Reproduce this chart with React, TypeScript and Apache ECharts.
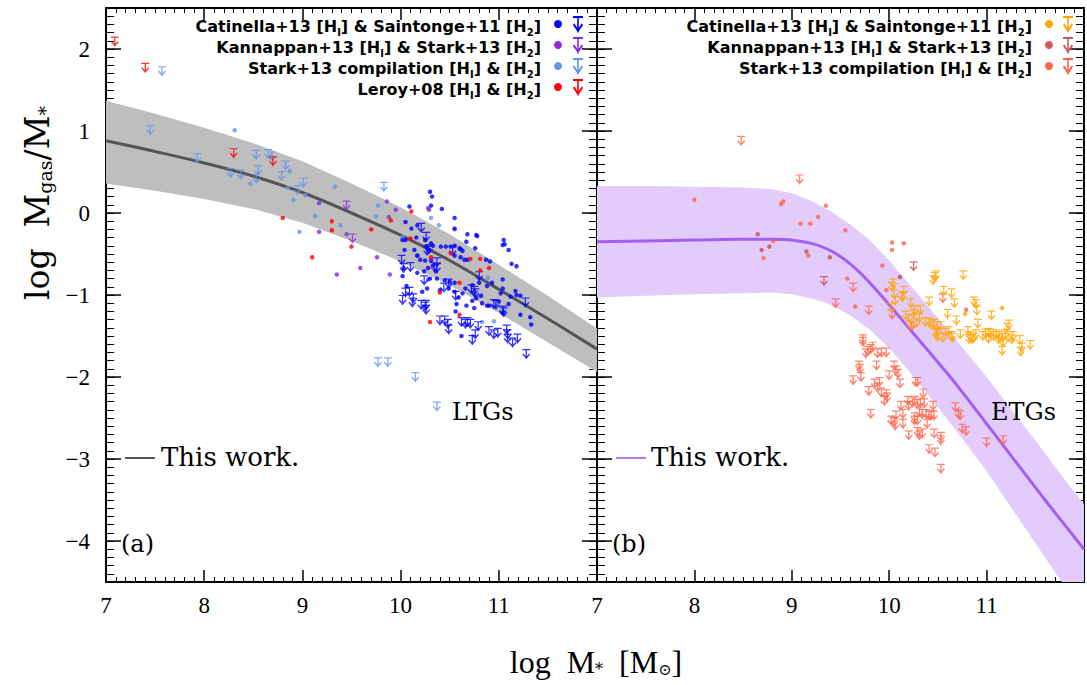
import React, { useEffect, useRef } from "react";
import * as echarts from "echarts";

// ---------- symbols ----------
const ARROW_D = "M0 0H100V14H0Z M42 0H58V118H42Z M0 64L12 52L50 92L88 52L100 64L50 118Z";
const ARROW_SYMBOL = "path://" + ARROW_D;
echarts.graphic.registerShape("ulArrow", echarts.graphic.extendPath(ARROW_D, {}));

// ---------- axis ticks ----------
const xTickValues = [7, 8, 9, 10, 11];
const yTickValues = [-4, -3, -2, -1, 0, 1, 2];

// ---------- model curves ----------
const ltgModelX = [7, 7.5, 8, 8.5, 9, 9.5, 10, 10.5, 11, 11.5, 12];
const ltgModelMid = [0.88, 0.75, 0.61, 0.45, 0.25, 0.0, -0.27, -0.58, -0.93, -1.29, -1.66];
const ltgModelHigh = [1.37, 1.21, 1.04, 0.85, 0.63, 0.36, 0.07, -0.26, -0.63, -1.01, -1.41];
const ltgModelLow = [0.36, 0.27, 0.17, 0.05, -0.12, -0.34, -0.59, -0.88, -1.22, -1.58, -1.94];

const etgModelX = [7, 7.5, 8, 8.5, 8.8, 9.0, 9.2, 9.4, 9.6, 9.8, 10.0, 10.2, 10.4, 10.6, 10.8, 11.0, 11.2, 11.4, 11.6, 11.8, 12.0];
const etgModelMid = [-0.35, -0.34, -0.33, -0.32, -0.32, -0.33, -0.37, -0.46, -0.62, -0.85, -1.12, -1.4, -1.68, -1.96, -2.26, -2.57, -2.88, -3.19, -3.5, -3.8, -4.1];
const etgModelHigh = [0.33, 0.33, 0.32, 0.31, 0.29, 0.24, 0.15, 0.02, -0.14, -0.33, -0.58, -0.86, -1.14, -1.42, -1.71, -2.0, -2.31, -2.62, -2.93, -3.25, -3.55];
const etgModelLow = [-1.03, -1.01, -0.99, -0.98, -0.97, -0.99, -1.04, -1.12, -1.25, -1.42, -1.65, -1.92, -2.22, -2.52, -2.83, -3.15, -3.5, -3.85, -4.2, -4.55, -4.9];

// ---------- LTG data ----------
const ltgCatinellaDet = [
  [10.30, 0.26], [10.32, 0.20], [10.09, 0.08], [10.31, 0.09], [10.42, 0.05], [10.55, -0.06], [10.05, -0.11], [10.11, -0.19],
  [10.55, -0.19], [10.17, -0.15], [10.16, -0.30], [10.25, -0.33], [10.26, -0.41], [10.05, -0.33], [10.02, -0.33], [10.04, -0.45],
  [10.29, -0.45], [10.33, -0.40], [10.31, -0.37], [10.41, -0.41], [10.46, -0.41], [10.51, -0.41], [10.55, -0.40], [10.60, -0.43],
  [10.68, -0.26], [10.77, -0.27], [10.78, -0.28], [10.67, -0.35], [10.76, -0.43], [10.61, -0.44], [10.63, -0.46], [10.55, -0.52],
  [10.61, -0.54], [10.65, -0.57], [10.68, -0.57], [10.87, -0.57], [10.91, -0.59], [11.05, -0.33], [11.06, -0.38], [11.04, -0.39],
  [11.10, -0.45], [11.13, -0.62], [11.18, -0.65], [10.14, -0.45], [10.17, -0.52], [10.20, -0.57], [10.25, -0.58], [10.31, -0.58],
  [10.33, -0.64], [10.28, -0.67], [10.36, -0.71], [10.24, -0.71], [10.17, -0.73], [10.02, -0.77], [10.30, -0.80], [10.37, -0.80],
  [10.45, -0.82], [10.50, -0.84], [10.55, -0.85], [10.49, -0.92], [10.40, -0.94], [10.27, -0.92], [10.22, -0.96], [10.55, -0.96],
  [10.59, -1.03], [10.63, -0.98], [10.66, -0.92], [10.73, -0.88], [10.80, -0.85], [10.88, -0.89], [10.93, -0.85], [11.04, -0.81],
  [10.77, -1.04], [10.82, -1.01], [10.73, -1.07], [10.88, -1.13], [10.90, -1.13], [11.04, -0.92], [11.02, -0.98], [11.00, -1.08],
  [11.10, -1.11], [11.12, -1.02], [11.18, -1.00], [11.22, -1.01], [11.17, -0.95], [10.57, -1.11], [10.67, -1.13], [10.75, -1.16],
  [10.83, -1.10], [11.04, -1.21], [11.22, -1.24], [11.32, -1.27], [11.33, -1.36], [10.62, -1.50], [10.56, -1.20], [10.03, -0.67],
  [10.06, -0.89],
];
const ltgCatinellaLim = [
  [10.21, -0.18], [10.26, -0.29], [10.27, -0.46], [10.29, -0.44], [10.01, -0.57], [10.03, -0.67], [10.10, -0.66], [10.05, -0.97],
  [10.09, -0.96], [10.02, -1.06], [10.13, -1.04], [10.12, -1.09], [10.21, -1.12], [10.25, -1.14], [10.26, -1.12], [10.26, -1.18],
  [10.24, -0.82], [10.37, -0.60], [10.37, -0.67], [10.44, -0.91], [10.49, -0.86], [10.56, -1.01], [10.40, -1.31], [10.45, -1.31],
  [10.48, -1.35], [10.49, -1.42], [10.53, -0.46], [10.62, -1.33], [10.66, -1.35], [10.68, -1.33], [10.71, -1.35], [10.79, -1.38],
  [10.76, -1.48], [10.73, -1.55], [10.80, -0.77], [10.72, -0.93], [10.75, -0.95], [10.76, -0.98], [10.95, -1.11], [10.97, -1.12],
  [11.04, -1.19], [11.05, -1.21], [10.90, -1.44], [10.95, -1.48], [10.99, -1.46], [11.08, -1.42], [11.09, -1.48], [11.09, -1.53],
  [11.14, -1.58], [11.19, -1.53], [11.27, -1.09], [11.28, -1.72],
];
const ltgKannappanDet = [
  [9.17, 0.12], [9.17, -0.23], [9.45, -0.26], [9.35, -0.75], [9.86, 0.14], [9.88, -0.05], [9.95, 0.04], [9.76, -0.54],
  [9.59, -0.67], [9.89, -0.75], [10.28, 0.06], [10.29, 0.04], [10.29, -0.45], [10.28, -0.81], [10.17, -0.52],
];
const ltgKannappanLim = [[9.45, 0.09], [9.51, -0.31], [10.34, -0.66]];
const ltgStarkDet = [
  [8.31, 1.01], [8.87, 0.51], [8.47, 0.36], [8.85, 0.31], [8.91, 0.16], [9.03, 0.22], [9.13, -0.04], [8.97, -0.23],
  [9.33, 0.32], [9.39, -0.15], [9.77, 0.09], [9.75, -0.04], [10.31, -0.06], [10.39, -0.15], [10.55, -0.20], [10.02, -0.29],
  [10.89, -0.79], [10.83, -1.33], [10.95, -1.32], [10.80, -1.01],
];
const ltgStarkLim = [
  [7.57, 1.73], [7.45, 1.01], [7.93, 0.67], [8.27, 0.49], [8.37, 0.47], [8.53, 0.71], [8.55, 0.52], [8.53, 0.42],
  [8.65, 0.72], [8.69, 0.69], [8.83, 0.58], [8.79, 0.45], [9.01, 0.37], [8.95, 0.28], [9.83, 0.32], [9.77, -1.82],
  [9.87, -1.82], [10.15, -2.0], [10.37, -2.36],
];
const ltgLeroyDet = [
  [8.80, -0.06], [9.30, -0.10], [9.30, -0.21], [9.10, -0.54], [9.50, -0.41], [9.70, -0.20], [9.90, -0.09], [10.11, 0.02],
  [10.10, -0.31], [10.31, -0.54], [10.51, -0.49], [10.71, -0.56], [10.81, -0.56], [10.81, -0.70], [10.90, -0.67], [10.60, -0.85],
  [10.40, -0.97], [10.60, -1.24], [10.30, -1.33],
];
const ltgLeroyLim = [[7.09, 2.09], [7.40, 1.77], [8.30, 0.73], [8.70, 0.63]];

// ---------- ETG data ----------
const etgCatinellaDet = [[10.78, -1.23], [11.16, -1.16]];
const etgCatinellaLim = [
  [10.47, -0.78], [10.48, -0.76], [10.45, -0.82], [10.76, -0.76], [10.04, -0.86], [10.03, -0.90], [10.15, -0.95], [10.56, -0.95],
  [10.64, -0.98], [10.14, -1.02], [10.05, -0.99], [10.06, -1.07], [10.22, -1.10], [10.41, -1.08], [10.67, -1.10], [10.87, -1.08],
  [10.89, -1.11], [10.90, -1.19], [10.26, -1.19], [10.25, -1.23], [10.32, -1.18], [10.31, -1.28], [10.28, -1.34], [10.22, -1.36],
  [10.37, -1.33], [10.41, -1.33], [10.43, -1.36], [10.46, -1.35], [10.49, -1.38], [10.53, -1.38], [10.60, -1.23], [10.69, -1.31],
  [10.49, -1.46], [10.50, -1.51], [10.58, -1.46], [10.61, -1.44], [10.64, -1.50], [10.73, -1.48], [10.81, -1.44], [10.83, -1.50],
  [10.85, -1.54], [10.87, -1.52], [10.89, -1.48], [10.91, -1.35], [10.96, -1.50], [10.99, -1.47], [11.02, -1.46], [11.04, -1.47],
  [11.07, -1.50], [11.10, -1.48], [11.13, -1.50], [11.16, -1.52], [11.19, -1.48], [11.21, -1.40], [11.23, -1.36], [11.27, -1.50],
  [11.34, -1.55], [11.36, -1.64], [11.35, -1.69], [11.45, -1.61], [11.16, -1.68], [11.17, -1.58], [11.05, -1.25], [10.02, -1.16],
  [10.13, -1.02], [10.17, -1.25], [10.20, -1.29], [10.48, -1.48], [10.55, -1.52], [10.65, -1.52], [10.82, -1.54], [11.02, -1.53],
  [11.12, -1.54], [11.22, -1.52], [11.26, -1.54],
];
const etgKannappanDet = [[8.65, -0.26], [8.69, -0.45], [8.77, -0.41], [9.15, -0.47], [9.39, -0.54], [10.11, -0.78]];
const etgKannappanLim = [[9.33, -0.83], [10.25, -0.65]];
const etgStarkDet = [
  [8.0, 0.16], [8.89, 0.11], [8.91, 0.14], [9.35, 0.09], [9.27, -0.05], [9.09, -0.13], [9.19, -0.13], [9.55, -0.21],
  [8.81, -0.34], [8.71, -0.55], [9.17, -0.52], [9.57, -0.80], [10.03, -0.36], [10.03, -0.45], [10.15, -0.37], [9.93, -0.64],
  [9.97, -0.94], [9.65, -1.14], [10.79, -1.18],
];
const etgStarkLim = [
  [8.48, 0.88], [9.08, 0.41], [9.45, -1.10], [9.63, -0.91], [9.79, -1.19], [10.03, -1.24], [10.23, -1.38], [10.55, -1.04],
  [9.73, -1.54], [9.73, -1.57], [9.78, -1.68], [9.81, -1.66], [9.83, -1.63], [9.76, -1.71], [9.88, -1.71], [9.92, -1.70],
  [9.97, -1.70], [9.69, -1.86], [9.70, -1.90], [9.87, -1.86], [10.05, -1.86], [10.07, -1.92], [10.09, -1.96], [9.63, -2.04],
  [9.71, -2.00], [9.85, -2.08], [9.90, -2.06], [10.00, -1.98], [9.88, -2.13], [9.92, -2.19], [9.97, -2.21], [9.98, -2.25],
  [9.95, -2.29], [10.11, -2.08], [9.79, -2.17], [10.27, -2.06], [9.81, -2.45], [10.02, -2.53], [10.05, -2.55], [10.07, -2.47],
  [10.12, -2.35], [10.14, -2.45], [10.19, -2.29], [10.20, -2.35], [10.24, -2.31], [10.26, -2.29], [10.29, -2.33], [10.32, -2.31],
  [10.36, -2.32], [10.26, -2.49], [10.29, -2.53], [10.26, -2.53], [10.31, -2.43], [10.34, -2.45], [10.35, -2.20], [10.38, -2.45],
  [10.41, -2.47], [10.43, -2.47], [10.46, -2.47], [10.45, -2.35], [10.06, -2.59], [10.14, -2.57], [10.20, -2.71], [10.29, -2.67],
  [10.31, -2.71], [10.34, -2.69], [10.39, -2.57], [10.46, -2.69], [10.53, -2.73], [10.53, -2.77], [10.41, -2.88], [10.47, -2.92],
  [10.53, -3.12], [10.29, -2.06], [10.68, -2.37], [10.71, -2.45], [10.73, -2.47], [10.75, -2.63], [10.79, -2.66], [11.00, -2.80],
  [11.17, -2.77],
];

// ---------- legend text ----------
const ltgLegend = [
  { text: "Catinella+13 [H{s|I}] & Saintonge+11 [H{s|2}]", color: "#0000ff" },
  { text: "Kannappan+13 [H{s|I}] & Stark+13 [H{s|2}]", color: "#8a2be2" },
  { text: "Stark+13 compilation [H{s|I}] & [H{s|2}]", color: "#6495ed" },
  { text: "Leroy+08 [H{s|I}] & [H{s|2}]", color: "#ff0000" },
];
const etgLegend = [
  { text: "Catinella+13 [H{s|I}] & Saintonge+11 [H{s|2}]", color: "#ffa500" },
  { text: "Kannappan+13 [H{s|I}] & Stark+13 [H{s|2}]", color: "#cd5c5c" },
  { text: "Stark+13 compilation [H{s|I}] & [H{s|2}]", color: "#ff6347" },
];

const LTG_LINE = "#555555";
const LTG_BAND = "#bebebe";
const ETG_LINE = "#a45ff2";
const ETG_BAND = "#e3ccfb";

const SERIF = "'DejaVu Serif', 'Liberation Serif', serif";
const LEG_FONT = "'DejaVu Sans', sans-serif";

function fmtY(v: number) {
  if (!Number.isInteger(v)) return "";
  return v < 0 ? "\u2212" + Math.abs(v) : String(v);
}

function xAxes(grid: number) {
  const common = {
    type: "value",
    gridIndex: grid,
    min: 7,
    max: 12,
    interval: 1,
    axisLine: { show: true, onZero: false, lineStyle: { color: "#000", width: 2 } },
    axisTick: { show: true, inside: true, length: 12, lineStyle: { color: "#000", width: 1.5 } },
    minorTick: { show: true, splitNumber: 10, length: 5, lineStyle: { color: "#000", width: 1 } },
    splitLine: { show: false },
  };
  return [
    {
      ...common,
      position: "bottom",
      axisLabel: {
        show: true,
        margin: 12,
        color: "#000",
        fontFamily: "'Liberation Serif', serif",
        fontSize: 23,
        formatter: (v: number) => (xTickValues.includes(v) ? String(v) : ""),
      },
    },
    { ...common, position: "top", axisLabel: { show: false } },
  ];
}

function yAxes(grid: number, labels: boolean) {
  const base = {
    type: "value",
    gridIndex: grid,
    min: -4.5,
    max: 2.5,
    axisLine: { show: true, onZero: false, lineStyle: { color: "#000", width: 2 } },
    splitLine: { show: false },
  };
  const major = {
    ...base,
    splitNumber: 7,
    axisTick: { show: true, inside: true, length: 15, lineStyle: { color: "#000", width: 1.5 } },
  };
  const minor = {
    ...base,
    interval: 0.1,
    axisTick: { show: true, inside: true, length: 8, lineStyle: { color: "#000", width: 1 } },
    axisLabel: { show: false },
  };
  return [
    {
      ...major,
      position: "left",
      axisLabel: {
        show: labels,
        showMinLabel: false,
        showMaxLabel: false,
        margin: 16,
        color: "#000",
        fontFamily: "'Liberation Serif', serif",
        fontSize: 23,
        formatter: (v: number) => (yTickValues.includes(v) ? fmtY(v) : ""),
      },
    },
    { ...minor, position: "left" },
    { ...major, position: "right", axisLabel: { show: false } },
    { ...minor, position: "right" },
  ];
}

function band(xs: number[], hi: number[], lo: number[], color: string, xi: number, yi: number) {
  return {
    type: "custom",
    xAxisIndex: xi,
    yAxisIndex: yi,
    data: [[xs[0], hi[0]]],
    clip: true,
    silent: true,
    z: 1,
    renderItem: (_p: any, api: any) => {
      const pts: number[][] = [];
      for (let i = 0; i < xs.length; i++) pts.push(api.coord([xs[i], hi[i]]));
      for (let i = xs.length - 1; i >= 0; i--) pts.push(api.coord([xs[i], lo[i]]));
      return { type: "polygon", shape: { points: pts }, style: { fill: color } };
    },
  };
}

function modelLine(xs: number[], ys: number[], color: string, xi: number, yi: number) {
  return {
    type: "line",
    xAxisIndex: xi,
    yAxisIndex: yi,
    data: xs.map((x, i) => [x, ys[i]]),
    smooth: 0.4,
    showSymbol: false,
    silent: true,
    lineStyle: { color, width: 3 },
    z: 2,
  };
}

function dots(data: number[][], color: string, xi: number, yi: number) {
  return {
    type: "scatter",
    xAxisIndex: xi,
    yAxisIndex: yi,
    data,
    symbol: "circle",
    symbolSize: 4.5,
    itemStyle: { color },
    silent: true,
    z: 5,
  };
}

function lims(data: number[][], color: string, xi: number, yi: number) {
  return {
    type: "scatter",
    xAxisIndex: xi,
    yAxisIndex: yi,
    data,
    symbol: ARROW_SYMBOL,
    symbolSize: [8, 10],
    itemStyle: { color },
    silent: true,
    z: 5,
  };
}

const subRich = { s: { fontSize: 10, fontFamily: LEG_FONT, fontWeight: "bold", padding: [12, 0, 0, 0], fill: "#000" } };

function legendGraphics(rows: { text: string; color: string }[], textRight: number, dotX: number, arrowX: number) {
  const rowYs = [25, 46, 67, 88];
  const out: any[] = [];
  rows.forEach((r, i) => {
    const y = rowYs[i];
    out.push({
      type: "text",
      x: textRight,
      y: y + 1,
      z: 100,
      style: {
        text: r.text,
        rich: subRich,
        fontFamily: LEG_FONT,
        fontWeight: "bold",
        fontSize: 16,
        fill: "#000",
        align: "right",
        verticalAlign: "middle",
      },
    });
    out.push({ type: "circle", z: 100, shape: { cx: dotX, cy: y - 1, r: 4 }, style: { fill: r.color } });
    out.push({ type: "ulArrow", z: 100, x: arrowX - 5, y: y - 9, scaleX: 0.1, scaleY: 0.14, style: { fill: r.color } });
  });
  return out;
}

const option: any = {
  animation: false,
  backgroundColor: "#fff",
  grid: [
    { left: 106, top: 8, width: 491, height: 574 },
    { left: 597, top: 8, width: 490, height: 574 },
  ],
  xAxis: [...xAxes(0), ...xAxes(1)],
  yAxis: [...yAxes(0, true), ...yAxes(1, false)],
  series: [
    band(ltgModelX, ltgModelHigh, ltgModelLow, LTG_BAND, 0, 0),
    modelLine(ltgModelX, ltgModelMid, LTG_LINE, 0, 0),
    dots(ltgStarkDet, "#6495ed", 0, 0),
    lims(ltgStarkLim, "#6495ed", 0, 0),
    dots(ltgKannappanDet, "#8a2be2", 0, 0),
    lims(ltgKannappanLim, "#8a2be2", 0, 0),
    dots(ltgCatinellaDet, "#0000ff", 0, 0),
    lims(ltgCatinellaLim, "#0000ff", 0, 0),
    dots(ltgLeroyDet, "#ff0000", 0, 0),
    lims(ltgLeroyLim, "#ff0000", 0, 0),

    band(etgModelX, etgModelHigh, etgModelLow, ETG_BAND, 2, 4),
    modelLine(etgModelX, etgModelMid, ETG_LINE, 2, 4),
    dots(etgStarkDet, "#ff6347", 2, 4),
    lims(etgStarkLim, "#ff6347", 2, 4),
    dots(etgKannappanDet, "#c0504d", 2, 4),
    lims(etgKannappanLim, "#c0504d", 2, 4),
    dots(etgCatinellaDet, "#ffa500", 2, 4),
    lims(etgCatinellaLim, "#ffa500", 2, 4),
  ],
  graphic: [
    ...legendGraphics(ltgLegend, 541, 558, 578),
    ...legendGraphics(etgLegend, 1032, 1049, 1068),
    { type: "text", z: 100, x: 452, y: 412, style: { text: "LTGs", fontFamily: SERIF, fontSize: 24, fill: "#000", verticalAlign: "middle" } },
    { type: "text", z: 100, x: 991, y: 412, style: { text: "ETGs", fontFamily: SERIF, fontSize: 24, fill: "#000", verticalAlign: "middle" } },
    { type: "text", z: 100, x: 121, y: 544, style: { text: "(a)", fontFamily: SERIF, fontSize: 24, fill: "#000", verticalAlign: "middle" } },
    { type: "text", z: 100, x: 612, y: 544, style: { text: "(b)", fontFamily: SERIF, fontSize: 24, fill: "#000", verticalAlign: "middle" } },
    { type: "line", z: 100, shape: { x1: 125, y1: 458, x2: 155, y2: 458 }, style: { stroke: LTG_LINE, lineWidth: 2 } },
    { type: "text", z: 100, x: 161, y: 457, style: { text: "This work.", fontFamily: SERIF, fontSize: 26, fill: "#000", verticalAlign: "middle" } },
    { type: "line", z: 100, shape: { x1: 616, y1: 458, x2: 646, y2: 458 }, style: { stroke: "#b37cf3", lineWidth: 2 } },
    { type: "text", z: 100, x: 651, y: 457, style: { text: "This work.", fontFamily: SERIF, fontSize: 26, fill: "#000", verticalAlign: "middle" } },
    {
      type: "text",
      z: 100,
      x: 37,
      y: 203,
      rotation: Math.PI / 2,
      style: {
        text: "log  M{s|gas}/M{s|*}",
        rich: { s: { fontSize: 19, fontFamily: SERIF, padding: [15, 0, 0, 0], fill: "#000" } },
        fontFamily: SERIF,
        fontSize: 33,
        fill: "#000",
        align: "center",
        verticalAlign: "middle",
      },
    },
    {
      type: "text",
      z: 100,
      x: 596,
      y: 662,
      style: {
        text: "log  M{s|*}  [M{s|\u2299}]",
        rich: { s: { fontSize: 16, fontFamily: SERIF, padding: [14, 0, 0, 0], fill: "#000" } },
        fontFamily: "'Liberation Serif', serif",
        fontSize: 32,
        fill: "#000",
        align: "center",
        verticalAlign: "middle",
      },
    },
  ],
};

export default function App() {
  const ref = useRef<HTMLDivElement>(null);
  useEffect(() => {
    if (!ref.current) return;
    const chart = echarts.init(ref.current, null, { renderer: "svg" });
    chart.setOption(option);
    return () => chart.dispose();
  }, []);
  return <div ref={ref} style={{ position: "absolute", left: 0, top: 0, width: 1087, height: 685, background: "#fff" }} />;
}
